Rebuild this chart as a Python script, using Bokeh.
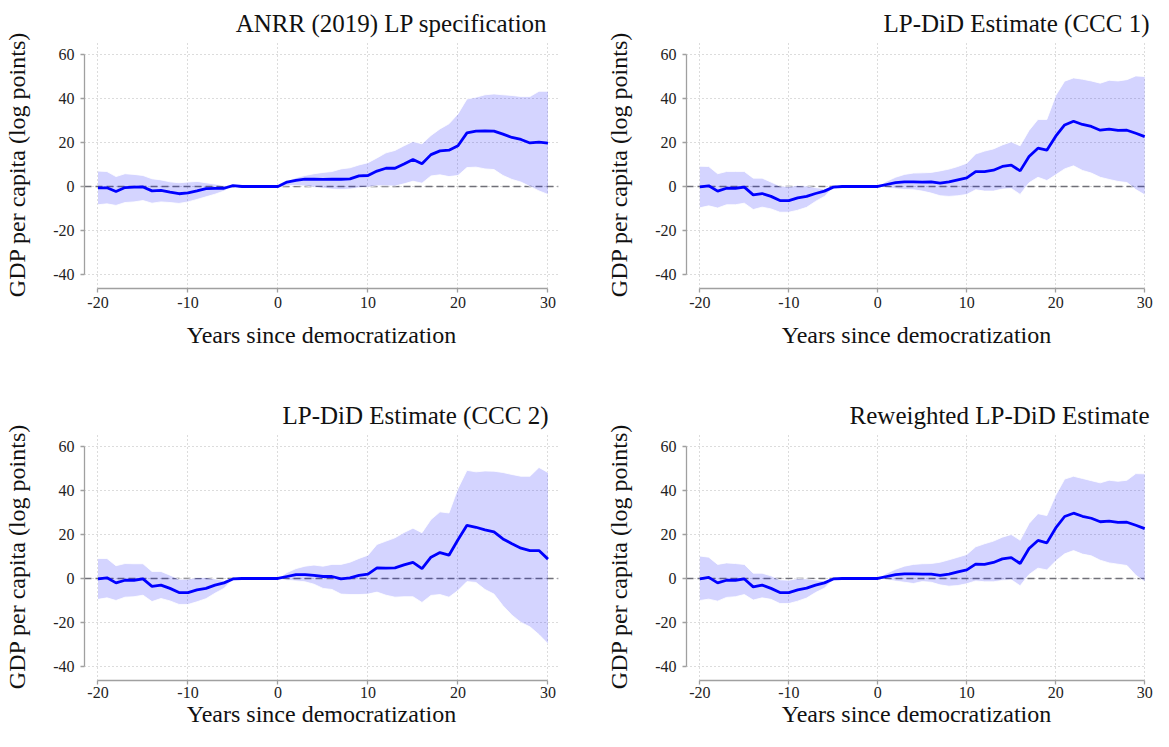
from bokeh.plotting import figure
from bokeh.layouts import column, row
from bokeh.models import Range1d, Span, FixedTicker, ColumnDataSource
from bokeh.embed import file_html
from bokeh.resources import INLINE

# ---------------- data ----------------
years = list(range(-20, 31))

x_ticks = [-20, -10, 0, 10, 20, 30]
y_ticks = [-40, -20, 0, 20, 40, 60]

titles = [
    "ANRR (2019) LP specification",
    "LP-DiD Estimate (CCC 1)",
    "LP-DiD Estimate (CCC 2)",
    "Reweighted LP-DiD Estimate",
]
x_label = "Years since democratization"
y_label = "GDP per capita (log points)"

# Panel 1: ANRR (2019) LP specification
est_anrr = [-0.6, -0.6, -2.3, -0.5, -0.3, -0.2, -2.0, -1.8, -2.6, -3.3, -2.9,
            -2.0, -1.0, -0.9, -0.8, 0.4, 0, 0, 0, 0, 0,
            2.0, 2.8, 3.3, 3.3, 3.2, 3.3, 3.3, 3.5, 4.8, 5.0,
            7.0, 8.3, 8.3, 10.2, 12.3, 10.3, 14.5, 16.2, 16.5, 18.5,
            24.4, 25.2, 25.3, 25.2, 23.8, 22.3, 21.4, 19.8, 20.2, 19.7]
up_anrr = [7.0, 6.8, 4.5, 5.8, 5.5, 5.0, 3.5, 3.0, 2.1, 1.7, 2.0,
           2.3, 1.7, 1.1, 0.3, 0.5, 0, 0, 0, 0, 0,
           2.5, 4.0, 5.0, 5.8, 6.4, 6.8, 8.0, 8.5, 9.8, 10.8,
           13.0, 15.3, 16.4, 18.5, 20.5, 19.4, 23.2, 26.2, 28.5, 33.0,
           39.8, 40.6, 41.7, 42.1, 41.7, 41.4, 40.9, 40.9, 43.3, 43.3]
lo_anrr = [-8.3, -7.9, -8.6, -7.3, -7.0, -6.4, -7.6, -7.0, -7.3, -7.7, -7.0,
           -5.9, -4.7, -3.5, -2.1, 0.2, 0, 0, 0, 0, 0,
           0.3, 0.4, 0.2, -0.3, -0.8, -1.2, -1.4, -1.2, -0.6, -0.3,
           0.3, 0.3, 0.2, 1.2, 2.4, 1.5, 4.8, 5.3, 4.5, 5.0,
           8.6, 8.8, 8.0, 7.7, 5.0, 3.2, 2.0, 0.0, -2.0, -3.6]

# Panel 2: LP-DiD Estimate (CCC 1)
est_ccc1 = [-0.2, 0.3, -2.1, -0.8, -0.8, -0.3, -3.8, -3.2, -4.5, -6.4, -6.4,
            -5.2, -4.5, -3.2, -2.1, -0.3, 0, 0, 0, 0, 0,
            0.9, 1.8, 2.1, 2.1, 2.0, 2.1, 1.5, 2.1, 3.0, 3.9,
            6.8, 6.8, 7.4, 9.1, 9.7, 7.1, 13.6, 17.4, 16.5, 22.9,
            28.0, 29.7, 28.2, 27.3, 25.6, 26.1, 25.5, 25.6, 24.2, 22.7]
up_ccc1 = [9.2, 9.1, 5.8, 6.8, 6.8, 6.8, 3.8, 3.8, 2.0, 0.2, 0.0,
           0.5, 0.2, -0.5, -1.0, 0, 0, 0, 0, 0, 0,
           2.4, 4.2, 5.5, 6.1, 6.2, 6.4, 7.1, 7.9, 9.1, 10.6,
           14.8, 16.1, 17.1, 18.9, 20.3, 18.5, 25.5, 30.5, 30.5, 41.4,
           47.9, 49.4, 48.8, 48.0, 47.0, 48.3, 48.0, 48.6, 50.3, 50.0]
lo_ccc1 = [-9.7, -8.8, -9.8, -8.3, -8.3, -7.6, -10.5, -9.4, -10.2, -11.7, -11.7,
           -10.8, -9.5, -6.8, -4.5, -0.5, 0, 0, 0, 0, 0,
           -0.6, -1.0, -1.4, -1.5, -2.1, -3.0, -4.2, -4.5, -4.2, -3.6,
           -1.5, -2.1, -2.1, -1.2, -0.9, -3.6, 1.7, 4.2, 2.7, 5.3,
           8.0, 9.4, 7.3, 6.1, 4.2, 3.2, 2.3, 1.8, -1.4, -3.8]

# Panel 3: LP-DiD Estimate (CCC 2)
est_ccc2 = [-0.2, 0.3, -2.0, -0.8, -0.8, -0.2, -3.6, -3.0, -4.5, -6.4, -6.4,
            -5.2, -4.5, -3.0, -2.0, -0.2, 0, 0, 0, 0, 0,
            0.9, 1.8, 1.8, 1.4, 0.9, 0.9, -0.2, 0.3, 1.4, 2.0,
            4.8, 4.7, 4.8, 6.2, 7.3, 4.5, 9.7, 11.8, 10.6, 17.6,
            24.2, 23.3, 22.1, 21.2, 18.0, 15.8, 13.8, 12.7, 12.7, 8.8]
up_ccc2 = [9.1, 9.1, 5.8, 6.8, 6.7, 6.7, 3.2, 3.2, 1.5, -0.3, -0.3,
           0.5, 0.5, -0.2, -0.9, 0, 0, 0, 0, 0, 0,
           2.7, 4.5, 5.6, 6.1, 5.6, 6.4, 6.4, 7.4, 9.1, 10.6,
           15.5, 17.0, 18.5, 20.9, 22.9, 20.8, 26.8, 30.3, 29.8, 40.9,
           49.2, 48.5, 48.9, 48.8, 48.2, 47.3, 46.5, 46.5, 50.5, 48.2]
lo_ccc2 = [-9.5, -8.8, -10.0, -8.5, -8.3, -7.6, -10.5, -9.1, -10.2, -11.8, -11.8,
           -10.6, -9.2, -6.7, -4.5, -0.3, 0, 0, 0, 0, 0,
           -0.8, -1.1, -1.5, -2.6, -4.5, -5.0, -7.1, -7.3, -7.3, -7.1,
           -6.2, -7.6, -8.5, -8.3, -8.3, -10.9, -7.7, -7.3, -8.5, -5.5,
           -1.4, -1.8, -5.0, -7.1, -12.4, -16.7, -20.0, -22.0, -25.5, -29.7]

# Panel 4: Reweighted LP-DiD Estimate
est_rw = [-0.2, 0.5, -2.0, -0.8, -0.8, -0.2, -3.8, -3.0, -4.5, -6.4, -6.4,
          -5.2, -4.4, -3.0, -2.0, -0.2, 0, 0, 0, 0, 0,
          0.9, 1.8, 2.1, 2.1, 2.0, 2.0, 1.4, 2.0, 3.0, 3.9,
          6.5, 6.4, 7.3, 8.9, 9.5, 6.8, 13.6, 17.3, 16.2, 23.0,
          28.2, 29.7, 28.3, 27.4, 25.8, 26.1, 25.5, 25.6, 24.2, 22.7]
up_rw = [10.2, 9.7, 6.4, 7.1, 6.8, 6.4, 2.4, 2.4, 1.2, -0.6, -0.8,
         0.0, -0.2, -0.6, -1.1, 0, 0, 0, 0, 0, 0,
         2.4, 4.2, 5.6, 6.4, 6.7, 6.8, 7.4, 8.5, 9.7, 10.9,
         14.4, 15.8, 17.0, 18.8, 20.0, 17.4, 25.0, 29.5, 28.6, 37.9,
         45.2, 46.5, 45.5, 44.5, 43.5, 44.7, 44.2, 44.7, 47.7, 47.6]
lo_rw = [-10.0, -9.4, -10.3, -8.6, -8.3, -7.3, -9.8, -8.8, -9.5, -11.4, -11.4,
         -10.3, -8.9, -6.4, -4.4, -0.3, 0, 0, 0, 0, 0,
         -0.6, -1.2, -1.7, -2.3, -1.4, -1.7, -2.9, -3.5, -3.2, -2.4,
         -1.1, -1.5, -1.5, -0.9, -0.6, -3.3, 1.8, 4.7, 3.9, 8.0,
         11.2, 12.7, 11.1, 10.3, 8.3, 7.1, 6.5, 5.9, 1.5, -1.5]

# ---------------- styling ----------------
FONT = "Liberation Serif"
AXIS_GRAY = "#a0a0a0"
GRID_GRAY = "#b8b8b8"


def make_panel(title, est, up, lo, frame_w, x_end, min_right, title_offset,
               min_bottom, tick_standoff, xlab_standoff):
    src = ColumnDataSource(dict(x=years, est=est, up=up, lo=lo))
    p = figure(frame_width=frame_w, frame_height=248,
               x_range=Range1d(-21.5, x_end), y_range=Range1d(-46.4, 66.4),
               output_backend="svg", toolbar_location=None,
               min_border_left=84, min_border_right=min_right,
               min_border_top=40, min_border_bottom=min_bottom,
               background_fill_color="white", border_fill_color="white")
    p.outline_line_color = None

    # title
    p.title.text = title
    p.title.align = "right"
    p.title.offset = title_offset
    p.title.standoff = 7
    p.title.text_font = FONT
    p.title.text_font_size = "25px"
    p.title.text_font_style = "normal"
    p.title.text_color = "#111111"

    # axes
    for ax in (p.xaxis[0], p.yaxis[0]):
        ax.axis_line_color = AXIS_GRAY
        ax.axis_line_width = 1.3
        ax.major_tick_line_color = AXIS_GRAY
        ax.major_tick_line_width = 1.3
        ax.major_tick_in = 0
        ax.major_tick_out = 4
        ax.minor_tick_line_color = None
        ax.major_label_text_font = FONT
        ax.major_label_text_font_size = "16px"
        ax.major_label_text_color = "#222222"
        ax.axis_label_text_font = FONT
        ax.axis_label_text_font_size = "24px"
        ax.axis_label_text_font_style = "normal"
        ax.axis_label_text_color = "#111111"

    p.xaxis.ticker = FixedTicker(ticks=x_ticks)
    p.xaxis.major_label_overrides = {t: str(t) for t in x_ticks}
    p.xaxis.bounds = (x_ticks[0], x_ticks[-1])
    p.xaxis.axis_label = x_label
    p.xaxis.major_label_standoff = tick_standoff
    p.xaxis.axis_label_standoff = xlab_standoff

    p.yaxis.ticker = FixedTicker(ticks=y_ticks)
    p.yaxis.major_label_overrides = {t: str(t) for t in y_ticks}
    p.yaxis.bounds = (y_ticks[0], y_ticks[-1])
    p.yaxis.axis_label = y_label
    p.yaxis.major_label_standoff = 6
    p.yaxis.axis_label_standoff = 20

    # grids (dotted)
    p.xgrid.ticker = FixedTicker(ticks=x_ticks)
    p.ygrid.ticker = FixedTicker(ticks=y_ticks)
    for g in (p.xgrid[0], p.ygrid[0]):
        g.grid_line_color = GRID_GRAY
        g.grid_line_dash = "1 3"
        g.grid_line_width = 1

    # zero reference line
    p.add_layout(Span(location=0, dimension="width", line_color="#707078",
                      line_width=1.4, line_dash="7 4", level="underlay"))

    # confidence band + estimate
    p.varea(x="x", y1="lo", y2="up", source=src,
            fill_color="#0000ff", fill_alpha=0.17)
    p.line(x="x", y="up", source=src, line_color="white", line_width=1, line_alpha=0.8)
    p.line(x="x", y="lo", source=src, line_color="white", line_width=1, line_alpha=0.8)
    p.line(x="x", y="est", source=src, line_color="#0000ff", line_width=2.8)
    return p


# left column: frame 474 px, right column: frame 460 px (fits 1153 px page)
p1 = make_panel(titles[0], est_anrr, up_anrr, lo_anrr, 474, 31.17, 44, 11, 104, 4, 11)
p2 = make_panel(titles[1], est_ccc1, up_ccc1, lo_ccc1, 460, 30.2, 7, -3, 104, 4, 11)
p3 = make_panel(titles[2], est_ccc2, up_ccc2, lo_ccc2, 474, 31.17, 44, 10, 51, 2, 0)
p4 = make_panel(titles[3], est_rw, up_rw, lo_rw, 460, 30.2, 7, -3, 51, 2, 0)

layout = column(row(p1, p2), row(p3, p4))

open("out.html", "w").write(file_html(layout, INLINE))
